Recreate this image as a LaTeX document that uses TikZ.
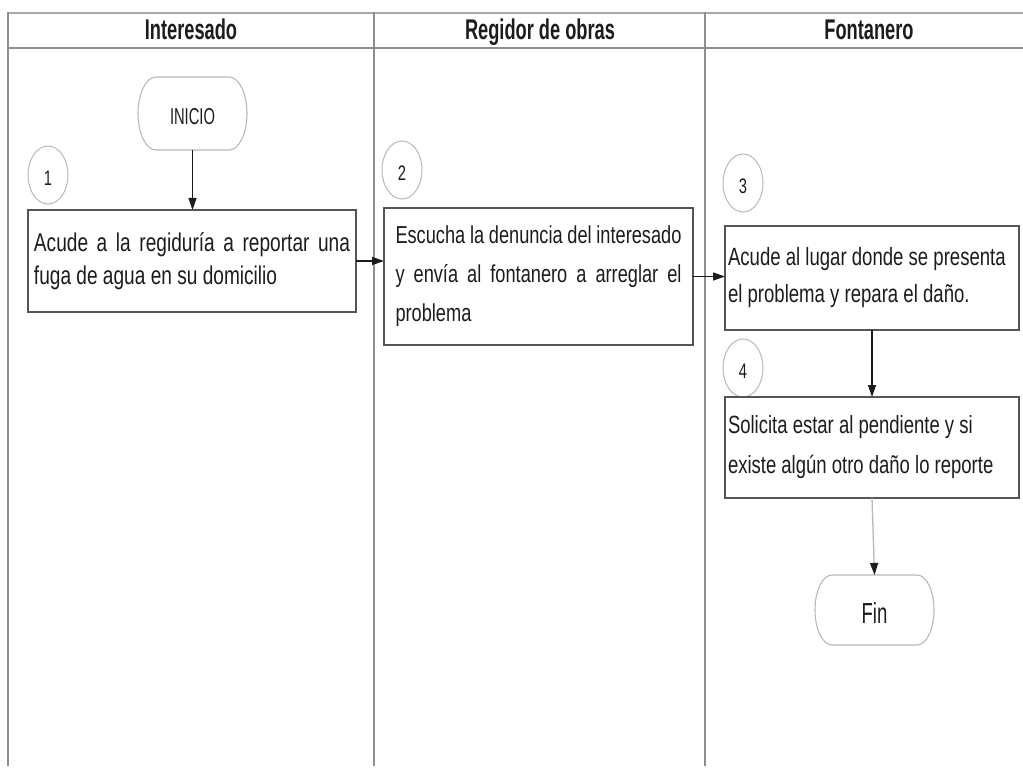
\documentclass[tikz,border=0pt]{standalone}
\usepackage{fontspec}
\setmainfont{Liberation Sans}
\newfontfamily\bodyfont[FakeStretch=0.743]{Liberation Sans}
\newfontfamily\headfont[FakeStretch=0.64]{Liberation Sans}
\newfontfamily\numfont[FakeStretch=0.7]{Liberation Sans}
\usetikzlibrary{shapes.geometric,arrows.meta}

\definecolor{lanegray}{HTML}{8E8E8E}
\definecolor{toplinegray}{HTML}{A8A8A8}
\definecolor{boxgray}{HTML}{555555}
\definecolor{ringgray}{HTML}{B8B8B8}
\definecolor{inkblack}{HTML}{1C1C1C}

\tikzset{
  lane/.style={draw=lanegray, line width=1.4pt},
  headtext/.style={font=\headfont\bfseries\fontsize{28.5}{30}\selectfont,
    text=inkblack, anchor=base, inner sep=0pt},
  body/.style 2 args={font=\bodyfont\fontsize{#1}{#2}\selectfont, text=inkblack},
  stepbox/.style={draw=boxgray, line width=1.6pt, anchor=north west,
    outer sep=0pt, inner ysep=0pt,
    execute at begin node={\hyphenpenalty=10000\exhyphenpenalty=10000}},
  ring/.style={ellipse, draw=ringgray, line width=1pt, minimum width=40pt,
    minimum height=58pt, inner sep=0pt, outer sep=0pt,
    font=\numfont\fontsize{21}{21}\selectfont, text=inkblack,
    text height=21pt, text depth=0pt},
  termbox/.style={draw=none, inner sep=0pt, outer sep=0pt, text=inkblack},
  termline/.style={draw=ringgray, line width=1.1pt},
  flow/.style={draw=inkblack, line width=1.3pt,
    -{Triangle[length=12pt,width=8pt]}},
  flowlight/.style={draw=ringgray, line width=1.3pt,
    -{Triangle[length=12pt,width=8pt,color=inkblack]}},
}

\begin{document}
\begin{tikzpicture}[x=1pt,y=-1pt]
\useasboundingbox (0,0) rectangle (1023,770);

% swimlane frame
\draw[draw=toplinegray, line width=2.6pt] (8,13) -- (1023,13);
\draw[lane, line width=1.8pt] (8,48) -- (1023,48);
\draw[lane] (8,12) -- (8,766);
\draw[lane] (374,12) -- (374,766);
\draw[lane] (705,12) -- (705,766);

% lane titles
\node[headtext] (h1) at (191,40) {Interesado};
\node[headtext] (h2) at (540,40) {Regidor de obras};
\node[headtext] (h3) at (869,40) {Fontanero};

% start terminator
\node[termbox, minimum width=109pt, minimum height=73pt,
      text height=22pt, text depth=0pt,
      font=\headfont\fontsize{23}{23}\selectfont] (inicio) at (192.5,113.5) {INICIO};
\draw[termline] ([xshift=18pt]inicio.north west) -- ([xshift=-18pt]inicio.north east)
  arc[start angle=90, end angle=-90, x radius=18pt, y radius=36.5pt]
  -- ([xshift=18pt]inicio.south west)
  arc[start angle=270, end angle=90, x radius=18pt, y radius=36.5pt] -- cycle;

% step numbers
\node[ring] (n1) at (48,175) {1};
\node[ring] (n2) at (402,170) {2};
\node[ring] (n3) at (743,183) {3};
\node[ring] (n4) at (743,368) {4};

% activity boxes
\node[stepbox, body={25.7}{33}, text width=316pt, inner xsep=6pt, minimum width=328pt,
      minimum height=102pt, align=justify] (box1) at (28,210)
  {Acude a la regiduría a reportar una fuga de agua en su domicilio};
\node[stepbox, body={24.5}{39}, text width=286pt, inner xsep=11.5pt, minimum width=309pt,
      minimum height=137pt, align=justify] (box2) at (384,208)
  {Escucha la denuncia del interesado y envía al fontanero a arreglar el problema};
\node[stepbox, body={25}{37}, text width=288pt, inner xsep=3pt, minimum width=294pt,
      minimum height=104pt, align=flush left] (box3) at (725,226)
  {Acude al lugar donde se presenta\\el problema y repara el daño.};
\node[stepbox, body={24.9}{40}, text width=288pt, inner xsep=3pt, minimum width=294pt,
      minimum height=101pt, align=flush left] (box4) at (725,397)
  {Solicita estar al pendiente y si\\existe algún otro daño lo reporte};

% end terminator
\node[termbox, minimum width=119pt, minimum height=70pt,
      text height=27pt, text depth=0pt,
      font=\headfont\fontsize{29}{29}\selectfont] (fin) at (874.5,610) {Fin};
\draw[termline] ([xshift=17pt]fin.north west) -- ([xshift=-17pt]fin.north east)
  arc[start angle=90, end angle=-90, x radius=17pt, y radius=35pt]
  -- ([xshift=17pt]fin.south west)
  arc[start angle=270, end angle=90, x radius=17pt, y radius=35pt] -- cycle;

% connectors
\draw[flow] (inicio.south) -- (inicio.south |- box1.north);
\draw[flow] (box1.east) -- (box1.east -| box2.west);
\draw[flow] (box2.east) -- (box2.east -| box3.west);
\draw[flow] (box3.south) -- (box4.north);
\draw[flowlight] (box4.south) -- (fin.north);
\end{tikzpicture}
\end{document}
